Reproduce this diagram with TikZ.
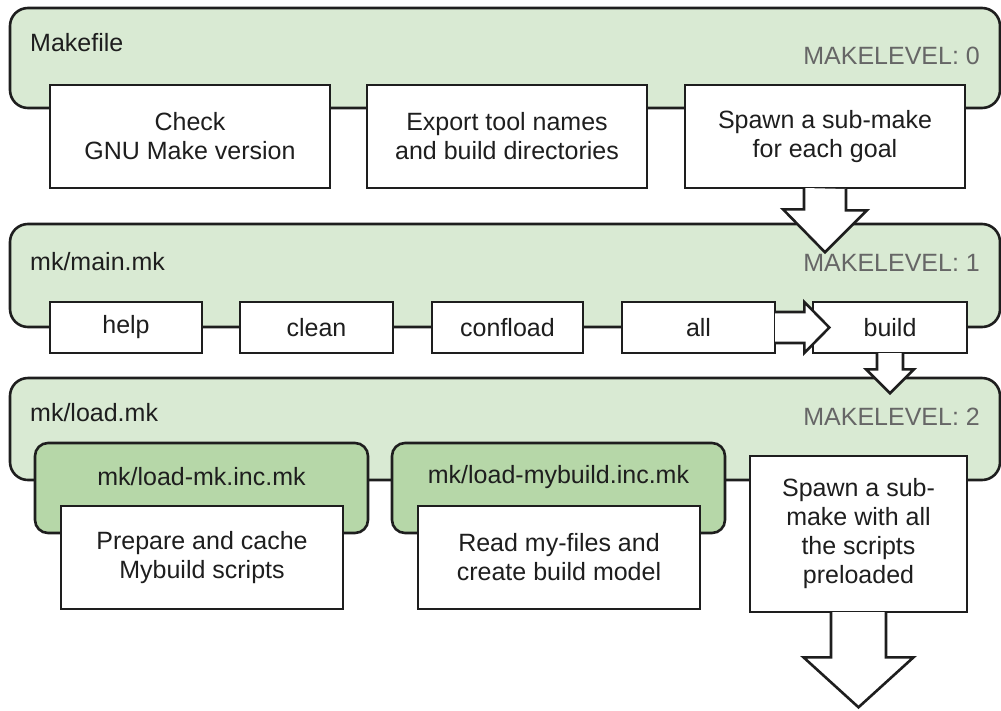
\documentclass[tikz,border=0pt]{standalone}
\usepackage{fontspec}
\setmainfont{Liberation Sans}
\usetikzlibrary{calc}
\definecolor{lvlgreen}{HTML}{D9EAD3}
\definecolor{incgreen}{HTML}{B6D7A8}
\definecolor{ink}{HTML}{1E1E1E}
\definecolor{levelgray}{HTML}{666666}

\begin{document}
\begin{tikzpicture}[x=1pt,y=-1pt,
  every node/.style={font=\fontsize{25}{29}\selectfont, text=ink},
  level/.style={draw=ink, line width=2.6pt, fill=lvlgreen, rounded corners=18pt,
    minimum width=990pt, inner sep=0pt},
  incfile/.style={draw=ink, line width=2.6pt, fill=incgreen, rounded corners=13pt,
    minimum width=333pt, minimum height=90pt, inner sep=0pt},
  stepbox/.style={draw=ink, line width=2.6pt, fill=white, inner sep=0pt, align=center},
  title/.style={anchor=west, inner sep=0pt},
  mklevel/.style={anchor=east, inner sep=0pt, text=levelgray},
  barrow/.style={draw=ink, line width=2.6pt, fill=white}
]
\useasboundingbox (0,0) rectangle (1001,710);

% make levels
\node[level, minimum height=100pt] (lvl0) at (505,58) {};
\node[level, minimum height=103pt] (lvl1) at (505,275.5) {};
\node[level, minimum height=102pt] (lvl2) at (505,429) {};

\node[title] (t0) at (30,43) {Makefile};
\node[title] (t1) at (30,262) {mk/main.mk};
\node[title] (t2) at (30,413) {mk/load.mk};
\node[mklevel] (m0) at (980,56) {MAKELEVEL: 0};
\node[mklevel] (m1) at (980,263) {MAKELEVEL: 1};
\node[mklevel] (m2) at (980,417) {MAKELEVEL: 2};

% top-level Makefile steps
\node[stepbox, minimum width=280pt, minimum height=103pt] (check) at (190,136.5) {Check\\GNU Make version};
\node[stepbox, minimum width=280pt, minimum height=103pt] (export) at (507,136.5) {Export tool names\\and build directories};
\node[stepbox, minimum width=280pt, minimum height=103pt] (spawn0) at (825,136.5) {Spawn a sub-make\\for each goal};

% goals of mk/main.mk
\node[stepbox, minimum width=152pt, minimum height=51pt] (help) at (126,327.5) {help};
\node[stepbox, minimum width=153pt, minimum height=51pt] (clean) at (316.5,327.5) {clean};
\node[stepbox, minimum width=151pt, minimum height=51pt] (confload) at (507.5,327.5) {confload};
\node[stepbox, minimum width=153pt, minimum height=51pt] (all) at (698.5,327.5) {all};
\node[stepbox, minimum width=154pt, minimum height=51pt] (build) at (890,327.5) {build};

% included makefiles of mk/load.mk
\node[incfile] (incmk) at (201.5,488) {};
\node[inner sep=0pt] (incmkt) at (201.5,477) {mk/load-mk.inc.mk};
\node[incfile] (incmy) at (558.5,488) {};
\node[inner sep=0pt] (incmyt) at (558.5,477) {mk/load-mybuild.inc.mk};
\node[stepbox, minimum width=282pt, minimum height=103pt] (prep) at (202,557.5) {Prepare and cache\\Mybuild scripts};
\node[stepbox, minimum width=282pt, minimum height=103pt] (read) at (559,557.5) {Read my-files and\\create build model};
\node[stepbox, minimum width=217pt, minimum height=156pt] (spawn2) at (858.5,534) {Spawn a sub-\\make with all\\the scripts\\preloaded};

% block arrows
\draw[barrow] ($(spawn0.south)+(-21,-1.3)$) -- ++(0,21.3) -- ++(-21,0)
  -- ($(spawn0.south)+(0,63)$) -- ++(42,-42) -- ++(-21,0) -- ++(0,-21.3);
\draw[barrow] ($(all.east)+(-1.3,-15.5)$) -- ++(29.3,0) -- ++(0,-10)
  -- ($(all.east)+(53,0)$) -- ($(all.east)+(28,25.5)$) -- ++(0,-10) -- ++(-29.3,0);
\draw[barrow] ($(build.south)+(-13,-1.3)$) -- ++(0,16.3) -- ++(-11,0)
  -- ($(build.south)+(0,39)$) -- ++(24,-24) -- ++(-11,0) -- ++(0,-16.3);
\draw[barrow] ($(spawn2.south)+(-27.5,-1.3)$) -- ++(0,45.3) -- ++(-27.5,0)
  -- ($(spawn2.south)+(0,94)$) -- ++(55,-50) -- ++(-27.5,0) -- ++(0,-45.3);
\end{tikzpicture}
\end{document}
